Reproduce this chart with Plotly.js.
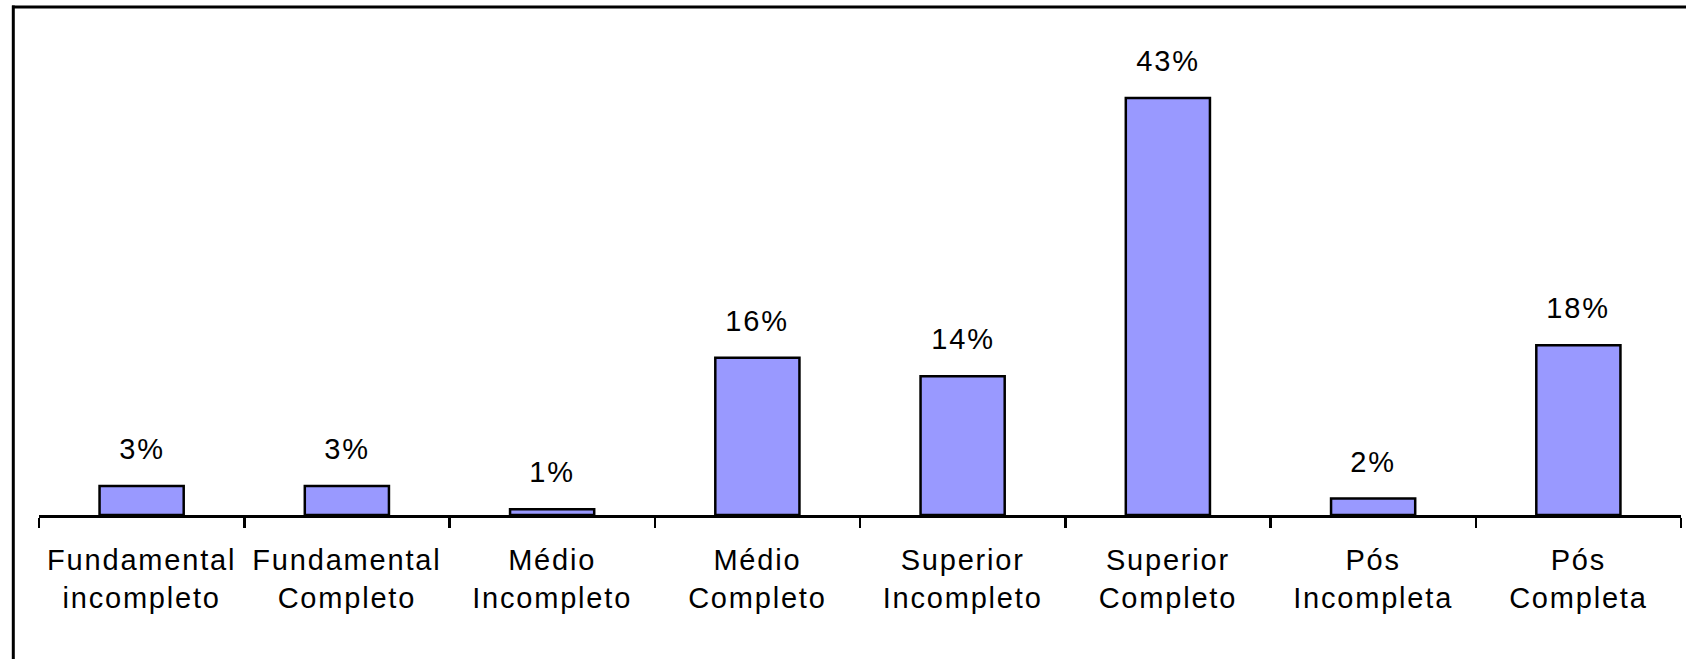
<!DOCTYPE html>
<html>
<head>
<meta charset="utf-8">
<script src="https://cdn.plot.ly/plotly-3.0.1.min.js"></script>
<style>
  html, body { margin: 0; padding: 0; background: #fff; }
  #chart { width: 1686px; height: 659px; }
  #chart .xtick text, #chart .annotation-text { letter-spacing: 1.8px; }
</style>
</head>
<body>
<div id="chart"></div>
<script>
const categories = [
  "Fundamental<br>incompleto",
  "Fundamental<br>Completo",
  "Médio<br>Incompleto",
  "Médio<br>Completo",
  "Superior<br>Incompleto",
  "Superior<br>Completo",
  "Pós<br>Incompleta",
  "Pós<br>Completa"
];
const values = [3.0, 3.0, 0.6, 16.2, 14.3, 43.0, 1.7, 17.5];
const valueLabels = values.map(v => Math.round(v) + "%");

const FONT = "Liberation Sans, Arial, sans-serif";
const W = 1686, H = 659;
const M = { l: 39, r: 5, t: 30, b: 144 };
const plotW = W - M.l - M.r, plotH = H - M.t - M.b;
const px2paperX = px => (px - M.l) / plotW;
const px2paperY = py => (H - M.b - py) / plotH;

const trace = {
  type: "bar",
  x: categories,
  y: values,
  marker: { color: "#9999FF", line: { color: "#000000", width: 2.5 } },
  hoverinfo: "skip"
};

const annotations = categories.map((c, i) => ({
  x: c, y: values[i], xref: "x", yref: "y",
  text: valueLabels[i], showarrow: false,
  yanchor: "bottom", yshift: 19,
  font: { family: FONT, size: 29, color: "#000" }
}));

const layout = {
  width: W, height: H,
  margin: M,
  paper_bgcolor: "#ffffff",
  plot_bgcolor: "#ffffff",
  showlegend: false,
  bargap: 0.59,
  xaxis: {
    type: "category",
    showline: true, linecolor: "#000", linewidth: 2.5,
    ticks: "outside", tickson: "boundaries", ticklen: 10, tickwidth: 2.5, tickcolor: "#000",
    showgrid: false, zeroline: false,
    tickfont: { family: FONT, size: 29, color: "#000" },
    ticklabelstandoff: 18,
    fixedrange: true
  },
  yaxis: {
    range: [0, 50], visible: false, showgrid: false, zeroline: false, fixedrange: true
  },
  annotations: annotations,
  shapes: [
    { type: "line", xref: "paper", yref: "paper",
      x0: px2paperX(12), x1: px2paperX(W + 5), y0: px2paperY(7), y1: px2paperY(7),
      line: { color: "#000", width: 3 } },
    { type: "line", xref: "paper", yref: "paper",
      x0: px2paperX(13.3), x1: px2paperX(13.3), y0: px2paperY(5.5), y1: px2paperY(H + 5),
      line: { color: "#000", width: 3 } }
  ]
};

Plotly.newPlot("chart", [trace], layout, { staticPlot: true, displayModeBar: false });
</script>
</body>
</html>
